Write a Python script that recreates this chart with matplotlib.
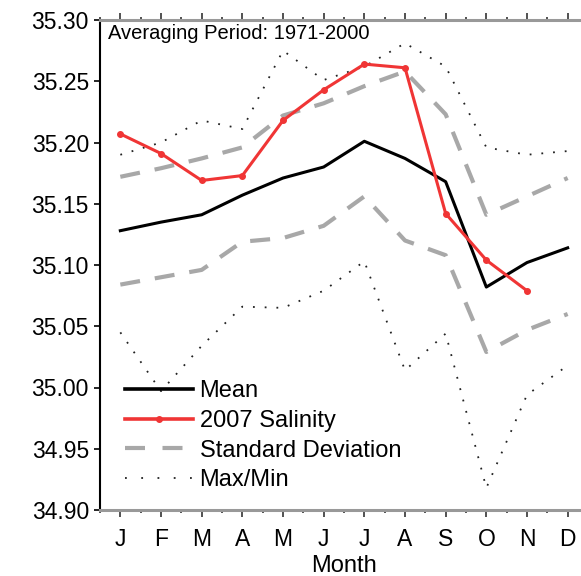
#!/usr/bin/env python
"""Monthly salinity climatology (1971-2000) against the 2007 monthly values."""

import matplotlib
matplotlib.use("Agg")
import matplotlib.pyplot as plt
from matplotlib.ticker import MultipleLocator, FixedLocator

plt.rcParams["font.family"] = ["Liberation Sans", "DejaVu Sans"]

MONTHS = ["J", "F", "M", "A", "M", "J", "J", "A", "S", "O", "N", "D"]
MONTH_NUM = list(range(1, 13))

MEAN = [35.128, 35.135, 35.141, 35.157, 35.171, 35.180, 35.201, 35.187,
        35.168, 35.082, 35.102, 35.114]
SAL_2007 = [35.207, 35.191, 35.169, 35.173, 35.218, 35.243, 35.264, 35.261,
            35.142, 35.104, 35.079]
SD_UPPER = [35.172, 35.179, 35.187, 35.196, 35.222, 35.232, 35.246, 35.258,
            35.223, 35.141, 35.156, 35.171]
SD_LOWER = [35.084, 35.090, 35.096, 35.119, 35.122, 35.132, 35.156, 35.120,
            35.108, 35.029, 35.047, 35.060]
MAX_VAL = [35.190, 35.200, 35.218, 35.211, 35.275, 35.251, 35.262, 35.281,
           35.262, 35.196, 35.190, 35.193]
MIN_VAL = [35.045, 34.997, 35.034, 35.066, 35.065, 35.079, 35.103, 35.014,
           35.044, 34.918, 34.994, 35.018]

RED = "#f03535"
GREY = "#a8a8a8"
DOT = (0, (1, 5.5))
DASH = (0, (4.8, 3.6))


def main() -> None:
    fig = plt.figure(figsize=(5.81, 5.76), dpi=100)
    ax = fig.add_axes([100 / 581, 1 - 510 / 576, 488 / 581, 490 / 576])

    ax.plot(MONTH_NUM, MAX_VAL, color="#222222", lw=1.3, ls=DOT, zorder=2)
    ax.plot(MONTH_NUM, MIN_VAL, color="#222222", lw=1.3, ls=DOT, zorder=2)
    ax.plot(MONTH_NUM, SD_UPPER, color=GREY, lw=3, ls=DASH, zorder=3)
    ax.plot(MONTH_NUM, SD_LOWER, color=GREY, lw=3, ls=DASH, zorder=3)
    ax.plot(MONTH_NUM, MEAN, color="black", lw=2.2, zorder=4)
    ax.plot(MONTH_NUM[:len(SAL_2007)], SAL_2007, color=RED, lw=2.2,
            marker="o", ms=4, zorder=5)

    # Legend proxies, same order as the original figure
    h_mean, = ax.plot([], [], color="black", lw=2.6)
    h_sal, = ax.plot([], [], color=RED, lw=2.6, marker="o", ms=4)
    h_sd, = ax.plot([], [], color=GREY, lw=3, ls=(0, (4.8, 4.2)))
    h_mm, = ax.plot([], [], color="#222222", lw=1.3, ls=(0, (1, 8)))
    ax.legend([h_mean, h_sal, h_sd, h_mm],
              ["Mean", "2007 Salinity", "Standard Deviation", "Max/Min"],
              loc="upper left", bbox_to_anchor=(25 / 488, 130 / 490),
              frameon=False, fontsize=17, handlelength=2.88,
              handletextpad=0.28, labelspacing=0.33, borderpad=0,
              borderaxespad=0)

    ax.set_xlim(0.5, 12.5)
    ax.set_ylim(34.90, 35.30)
    ax.xaxis.set_major_locator(FixedLocator(MONTH_NUM))
    ax.xaxis.set_minor_locator(MultipleLocator(0.5))
    ax.set_xticklabels(MONTHS)
    ax.yaxis.set_major_locator(MultipleLocator(0.05))
    ax.yaxis.set_major_formatter(plt.FormatStrFormatter("%.2f"))

    ax.tick_params(axis="x", which="both", top=True, direction="out",
                   labelsize=16.5, pad=8, color="#333333")
    ax.tick_params(axis="x", which="major", length=5, width=1.2)
    ax.tick_params(axis="x", which="minor", length=2.5, width=1.2)
    ax.tick_params(axis="y", which="major", length=4, width=1.2,
                   direction="out", labelsize=16.5, pad=4)

    for side in ("top", "bottom"):
        ax.spines[side].set_color("#999999")
        ax.spines[side].set_linewidth(2.2)
    ax.spines["left"].set_linewidth(1.5)
    ax.spines["right"].set_visible(False)

    ax.set_xlabel("Month", fontsize=17, labelpad=3)
    ax.text(8 / 488, 0.992, "Averaging Period: 1971-2000", transform=ax.transAxes,
            ha="left", va="top", fontsize=14.5)

    fig.savefig("out.png", dpi=100)
    plt.close(fig)


if __name__ == "__main__":
    main()
